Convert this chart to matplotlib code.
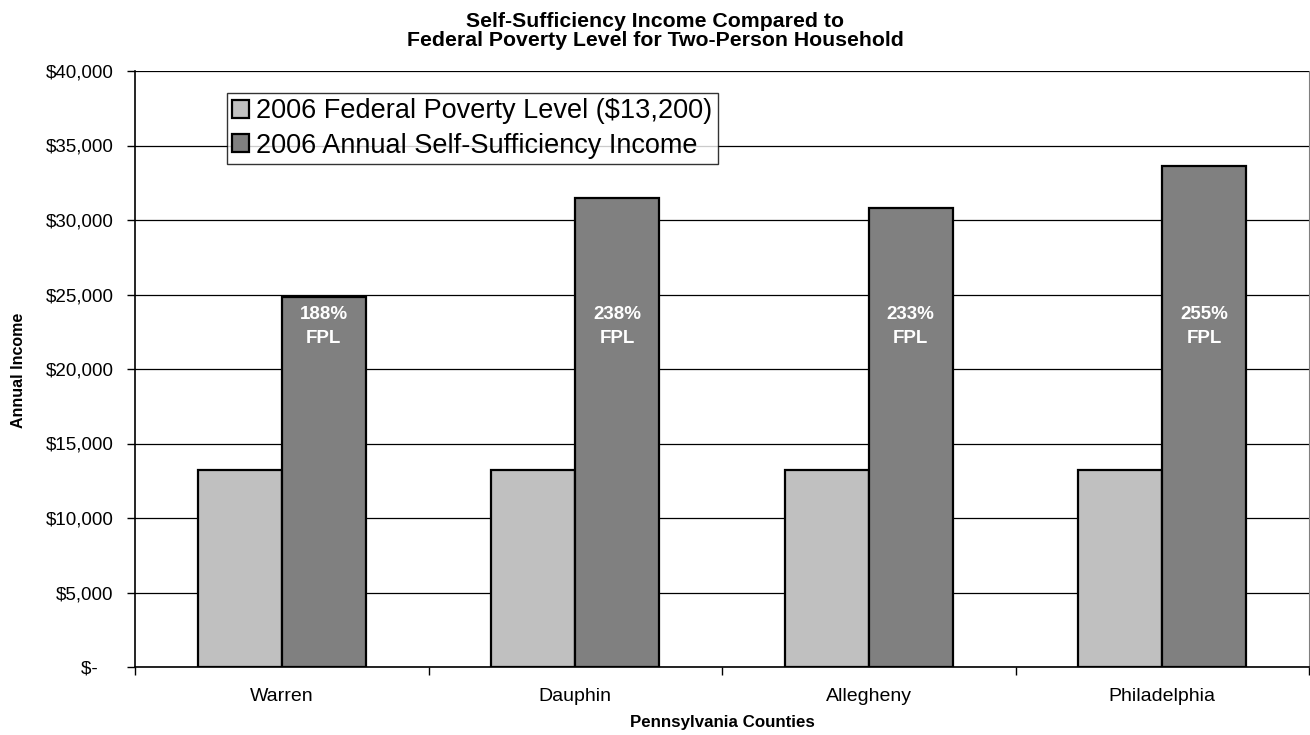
import matplotlib.pyplot as plt
import matplotlib.ticker as mticker
import numpy as np

plt.rcParams['font.family'] = ['Liberation Sans', 'DejaVu Sans']

counties = ["Warren", "Dauphin", "Allegheny", "Philadelphia"]
fpl_values = [13200, 13200, 13200, 13200]
income_values = [24850, 31450, 30800, 33650]
fpl_labels = ["188%\nFPL", "238%\nFPL", "233%\nFPL", "255%\nFPL"]
y_ticks = [0, 5000, 10000, 15000, 20000, 25000, 30000, 35000, 40000]

fig = plt.figure(figsize=(13.1, 7.35), dpi=100)
ax = fig.add_axes([135 / 1310, 68 / 735, 1174 / 1310, 596 / 735])

x = np.arange(len(counties))
width = 0.286

ax.bar(x - width / 2, fpl_values, width, color='#C0C0C0', edgecolor='black',
       linewidth=1.6, zorder=3, label='2006 Federal Poverty Level ($13,200)')
ax.bar(x + width / 2, income_values, width, color='#808080', edgecolor='black',
       linewidth=1.6, zorder=3, label='2006 Annual Self-Sufficiency Income')

# FPL percentage labels inside the dark bars
for xi, lab in zip(x, fpl_labels):
    ax.text(xi + width / 2, 24250, lab, ha='center', va='top', color='white',
            fontsize=13.5, fontweight='bold', linespacing=1.55, zorder=5)

ax.set_xlim(-0.5, len(counties) - 0.5)
ax.set_ylim(0, 40000)
ax.set_yticks(y_ticks)
ax.yaxis.set_major_formatter(mticker.FuncFormatter(
    lambda v, p: "$-   " if v == 0 else f"${v:,.0f}"))
ax.grid(True, axis='y', color='black', linewidth=0.9, zorder=0)

ax.set_xticks(x)
ax.set_xticklabels(counties)
ax.set_xticks(np.arange(-0.5, len(counties)), minor=True)
ax.tick_params(axis='x', which='major', length=0, pad=15, labelsize=14)
ax.tick_params(axis='x', which='minor', length=6, width=1, direction='out')
ax.tick_params(axis='y', length=6, width=1, pad=9.5, labelsize=13.5)

ax.spines['top'].set_visible(False)
ax.spines['right'].set_color('#808080')
ax.spines['left'].set_linewidth(1.2)
ax.spines['bottom'].set_linewidth(1.2)

ax.set_xlabel("Pennsylvania Counties", fontsize=12.2, fontweight='bold')
ax.xaxis.set_label_coords(0.5, -0.081)
ax.set_ylabel("Annual Income", fontsize=11.5, fontweight='bold')
ax.yaxis.set_label_coords(-0.093, 0.498)

fig.text(0.5, 0.983, "Self-Sufficiency Income Compared to\nFederal Poverty Level for Two-Person Household",
         ha='center', va='top', fontsize=15.3, fontweight='bold', linespacing=1.0)

leg = ax.legend(loc='upper left', bbox_to_anchor=(92 / 1174, 1 - 22 / 596),
                fontsize=19.5, frameon=True, fancybox=False, borderpad=0.2,
                handlelength=0.62, handleheight=0.62, handletextpad=0.25,
                labelspacing=0.3, borderaxespad=0)
leg.get_frame().set_edgecolor('black')
leg.get_frame().set_linewidth(1.0)
leg.set_zorder(6)

plt.savefig("out.png", dpi=100)
plt.close()
